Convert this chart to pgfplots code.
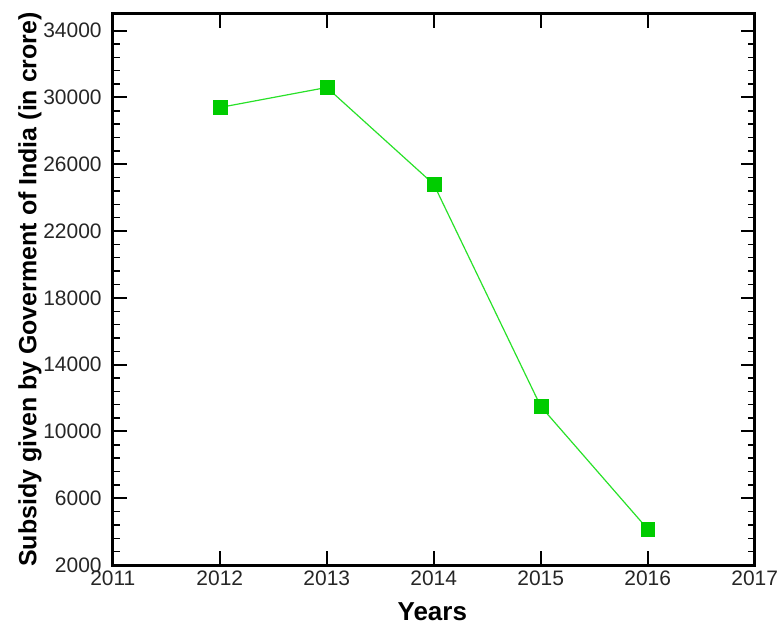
\documentclass[border=0pt]{standalone}
\usepackage{pgfplots}
\pgfplotsset{compat=1.18}
\usepackage{fontspec}
\setmainfont{Liberation Sans}
\definecolor{mk}{RGB}{0,204,0}
\definecolor{ln}{RGB}{40,225,40}
\begin{document}
\begin{tikzpicture}
\begin{axis}[
  scale only axis, width=643pt, height=552pt,
  xmin=2011, xmax=2017, ymin=2000, ymax=35000,
  xtick={2011,2012,...,2017}, ytick={2000,6000,...,34000},
  scaled ticks=false,
  minor x tick num=4, minor y tick num=4,
  tick align=inside, major tick length=14pt, minor tick length=7pt,
  every major tick/.style={line width=2pt, black},
  every minor tick/.style={line width=1.4pt, black},
  axis line style={line width=3pt},
  /pgf/number format/1000 sep={},
  /pgf/number format/assume math mode=true,
  tick label style={font=\fontsize{21}{21}\selectfont, text=black!85},
  xticklabel style={inner sep=0pt, anchor=north, yshift=-6pt},
  yticklabel style={inner sep=0pt, anchor=east, xshift=-11pt},
  xlabel={Years}, ylabel={Subsidy given by Goverment of India (in crore)},
  label style={font=\bfseries\fontsize{25}{25}\selectfont},
  xlabel style={font=\bfseries\fontsize{26}{26}\selectfont, at={(axis description cs:0.4977,-0.1014)}, anchor=base, inner sep=0pt},
  ylabel style={at={(axis description cs:-0.129,0.5)}, anchor=center, rotate=0},
]
\addplot[ln, line width=1.2pt, mark=square*, mark size=7pt,
  mark options={fill=mk, draw=mk, line width=0.5pt}]
  coordinates {(2012,29400) (2013,30600) (2014,24800) (2015,11500) (2016,4150)};
\end{axis}
\path ([shift={(-113pt,-62pt)}]current axis.south west) rectangle ([shift={(22pt,14pt)}]current axis.north east);
\end{tikzpicture}
\end{document}
